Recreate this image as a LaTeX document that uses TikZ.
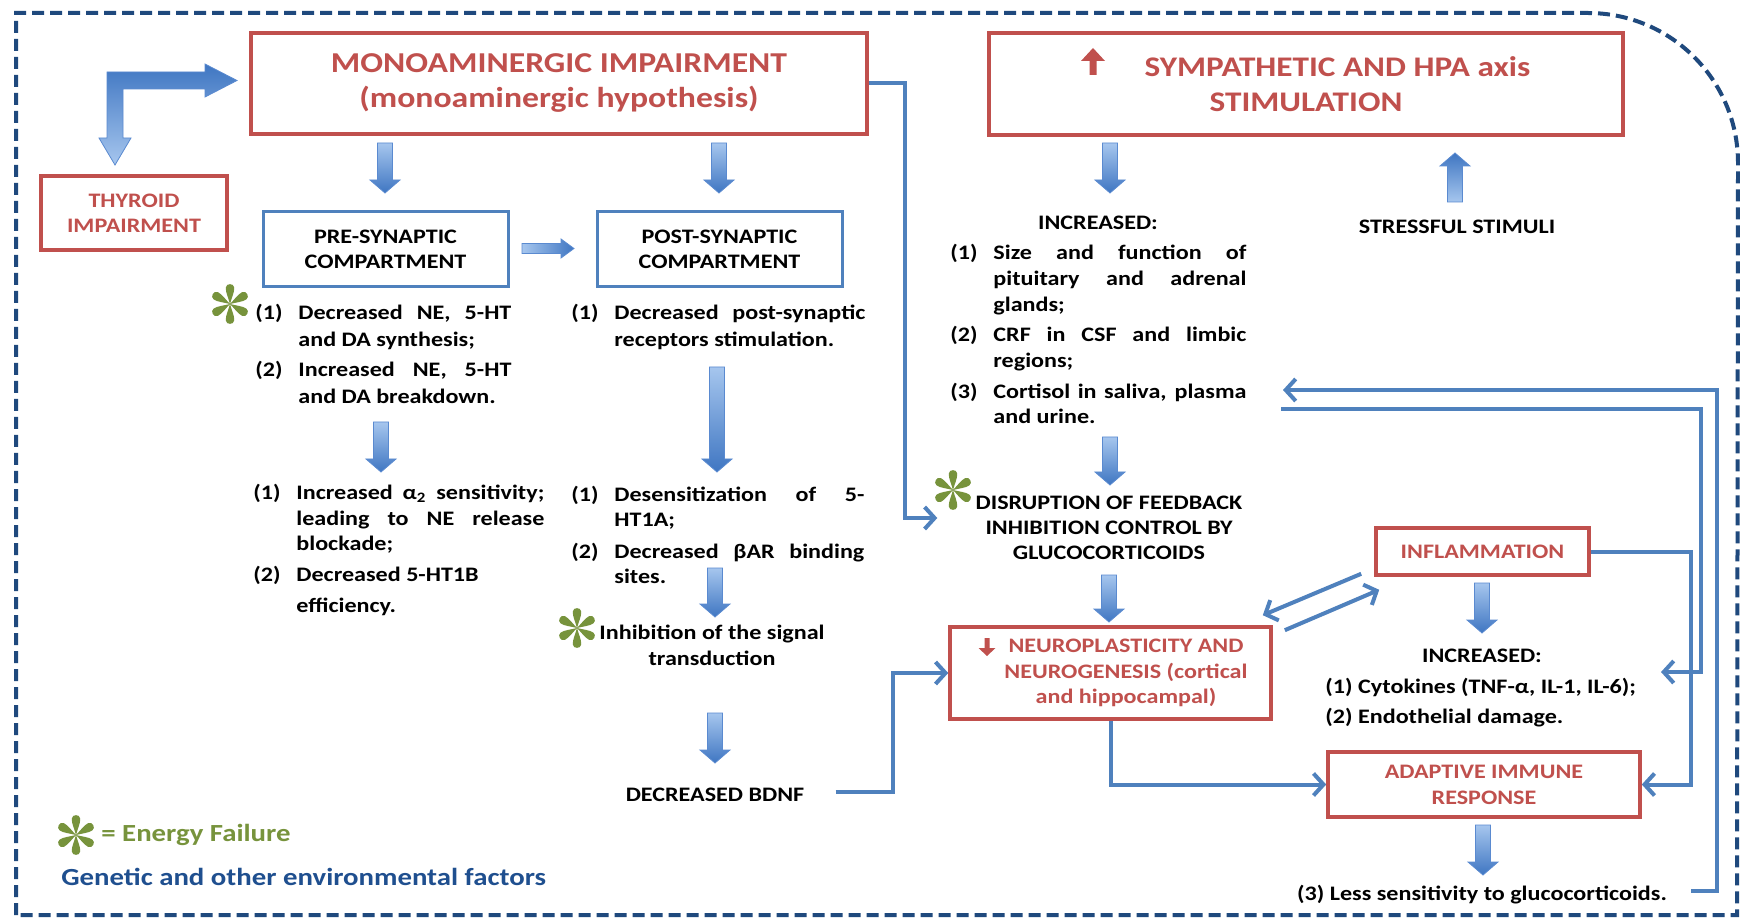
\documentclass[tikz,border=0pt]{standalone}
\usepackage{fontspec}
\setmainfont{Carlito}[FakeStretch=1.17]
\usetikzlibrary{arrows.meta,calc}
\definecolor{cred}{HTML}{C0504D}
\definecolor{cblue}{HTML}{4F81BD}
\definecolor{cnavy}{HTML}{1F497D}
\definecolor{cgreen}{HTML}{77933C}
\definecolor{cgen}{HTML}{1F4F8F}
\definecolor{alight}{HTML}{A6C6EE}
\definecolor{adark}{HTML}{3F76C2}
\definecolor{ablue}{HTML}{5A8AD0}
\newcommand{\fsz}[2]{\fontsize{#1}{#2}\selectfont\bfseries}
\newcommand{\itm}[3]{\makebox[21.5pt][l]{#1}\makebox[#2][s]{#3}}
\newcommand{\itl}[3]{\makebox[21.5pt][l]{#1}\makebox[#2][l]{#3}}
\newcommand{\cnj}[2]{\hspace*{21.5pt}\makebox[#1][s]{#2}}
\newcommand{\cnl}[2]{\hspace*{21.5pt}\makebox[#1][l]{#2}}
\newcommand{\vblock}[4][]{\shadedraw[blk,top color=alight,bottom color=adark,#1] ({#2-7.5},#3) -- ({#2+7.5},#3) -- ({#2+7.5},{#4-13*sign(#4-#3)}) -- ({#2+15},{#4-13*sign(#4-#3)}) -- (#2,#4) -- ({#2-15},{#4-13*sign(#4-#3)}) -- ({#2-7.5},{#4-13*sign(#4-#3)}) -- cycle;}
\newcommand{\hblock}[3]{\shadedraw[blk,left color=alight,right color=adark] (#2,{#1-5}) -- ({#3-13},{#1-5}) -- ({#3-13},{#1-9.5}) -- (#3,#1) -- ({#3-13},{#1+9.5}) -- ({#3-13},{#1+5}) -- (#2,{#1+5}) -- cycle;}
\newcommand{\redarr}[6]{\fill[cred] ({#1-#4},#2) -- ({#1+#4},#2) -- ({#1+#4},{#3-#6*sign(#3-#2)}) -- ({#1+#5},{#3-#6*sign(#3-#2)}) -- (#1,#3) -- ({#1-#5},{#3-#6*sign(#3-#2)}) -- ({#1-#4},{#3-#6*sign(#3-#2)}) -- cycle;}
\tikzset{ast/.pic={\foreach \a in {90,30,-30,-90,150,210}{\fill[cgreen,rotate=\a] (0,0) .. controls (6,-1.6) and (12,-4.6) .. (16.5,-4.2) .. controls (21,-3.8) and (21,3.8) .. (16.5,4.2) .. controls (12,4.6) and (6,1.6) .. (0,0);}}}
\begin{document}
\begin{tikzpicture}[x=0.5pt,y=-0.5pt,
  rbox/.style={draw=cred, line width=1.8pt, text=cred, align=center, inner sep=0pt},
  bbox/.style={draw=cblue, line width=1.5pt, text=black, align=center, inner sep=0pt},
  txt/.style={align=center, inner sep=0pt, text=black},
  lst/.style={inner sep=0pt, anchor=base west, text=black},
  conn/.style={draw=cblue, line width=2pt, -{Straight Barb[length=5pt,width=11pt]}},
  blk/.style={draw=ablue, line width=0.4pt},
  border/.style={draw=cnavy, line width=2pt, dash pattern=on 6pt off 3pt},
]
\useasboundingbox (0,0) rectangle (1740,919);
\fill[white] (0,0) rectangle (1740,919);
% border
\draw[border] (16,915) -- (16,13) -- (1588,13) arc[start angle=-90,end angle=0,radius=150] -- (1737,915) -- cycle;

% boxes
\node[rbox, minimum width=308pt, minimum height=50.5pt, font=\fsz{14.4}{17.5}] (mono) at (559,83.5) {MONOAMINERGIC IMPAIRMENT\\(monoaminergic hypothesis)};
\node[rbox, minimum width=93pt, minimum height=37pt, font=\fsz{10.3}{12.5}] (thy) at (134,213) {THYROID\\IMPAIRMENT};
\node[bbox, minimum width=122.5pt, minimum height=37.5pt, font=\fsz{10.3}{12.5}] (pre) at (385.5,249.5) {PRE-SYNAPTIC\\COMPARTMENT};
\node[bbox, minimum width=122.5pt, minimum height=37.5pt, font=\fsz{10.3}{12.5}] (post) at (719.5,249.5) {POST-SYNAPTIC\\COMPARTMENT};
\node[rbox, minimum width=317pt, minimum height=51pt, font=\fsz{14.2}{17.5}] (symp) at (1306,84) {\hspace*{31.5pt}SYMPATHETIC AND HPA axis\\STIMULATION};
\node[rbox, minimum width=106.5pt, minimum height=23.5pt, font=\fsz{10.3}{12.5}] (infl) at (1482.5,551.5) {INFLAMMATION};
\node[rbox, minimum width=160.5pt, minimum height=46pt, font=\fsz{10.3}{12.75}] (neuro) at (1110.5,673) {\hspace*{15.5pt}NEUROPLASTICITY AND\\\hspace*{15.5pt}NEUROGENESIS (cortical\\\hspace*{15.5pt}and hippocampal)};
\node[rbox, minimum width=156pt, minimum height=32.5pt, font=\fsz{10.3}{13}] (adapt) at (1484,784.5) {ADAPTIVE IMMUNE\\RESPONSE};

% plain texts
\node[txt, font=\fsz{10.3}{12.5}] (inc1) at (1098,223) {INCREASED:};
\node[txt, font=\fsz{10.3}{12.5}] (stress) at (1457,227) {STRESSFUL STIMULI};
\node[txt, font=\fsz{10.3}{12.5}] (disr) at (1109,528) {DISRUPTION OF FEEDBACK\\INHIBITION CONTROL BY\\GLUCOCORTICOIDS};
\node[txt, font=\fsz{10.3}{13}] (inh) at (712,645) {Inhibition of the signal\\transduction};
\node[txt, font=\fsz{10.3}{12.5}] (bdnf) at (715,795) {DECREASED BDNF};
\node[txt, font=\fsz{10.3}{12.5}] (inc2) at (1482,656) {INCREASED:};
\node[lst] (cyt) at (1325,693.5) {\parbox[t]{170pt}{\fsz{10.3}{13}(1) Cytokines (TNF-α, IL-1, IL-6);\\[2pt](2) Endothelial damage.}};
\node[txt, font=\fsz{10.3}{12.5}] (less) at (1482,895) {(3) Less sensitivity to glucocorticoids.};
\node[txt, anchor=west, text=cgreen, font=\fsz{12.3}{14}] (legend) at (101,835) {= Energy Failure};
\node[txt, anchor=west, text=cgen, font=\fsz{12.3}{14}] (genetic) at (61,877) {Genetic and other environmental factors};

% lists
\node[lst] (prel1) at (255,319.5) {\parbox[t]{128pt}{\fsz{10.3}{13.5}%
\itm{(1)}{106.5pt}{Decreased NE, 5-HT}\\
\cnl{106.5pt}{and DA synthesis;}\\[1.5pt]
\itm{(2)}{106.5pt}{Increased NE, 5-HT}\\
\cnl{106.5pt}{and DA breakdown.}}};
\node[lst] (postl1) at (571,319.5) {\parbox[t]{147pt}{\fsz{10.3}{13.5}%
\itm{(1)}{125.5pt}{Decreased post-synaptic}\\
\cnl{125.5pt}{receptors stimulation.}}};
\node[lst] (prel2) at (253,499.5) {\parbox[t]{145.5pt}{\fsz{10.3}{12.5}%
\itm{(1)}{124pt}{Increased α\textsubscript{2} sensitivity;}\\[0.5pt]
\cnj{124pt}{leading to NE release}\\
\cnl{124pt}{blockade;}\\[3pt]
\itl{(2)}{124pt}{Decreased 5-HT1B}\\[3pt]
\cnl{124pt}{efficiency.}}};
\node[lst] (postl2) at (571,501.5) {\parbox[t]{146.5pt}{\fsz{10.3}{12.5}%
\itm{(1)}{125pt}{Desensitization of 5-}\\
\cnl{125pt}{HT1A;}\\[3.5pt]
\itm{(2)}{125pt}{Decreased βAR binding}\\
\cnl{125pt}{sites.}}};
\node[lst] (sympl) at (950,259.5) {\parbox[t]{148pt}{\fsz{10.3}{13}%
\itm{(1)}{126.5pt}{Size and function of}\\
\cnj{126.5pt}{pituitary and adrenal}\\
\cnl{126.5pt}{glands;}\\[2pt]
\itm{(2)}{126.5pt}{CRF in CSF and limbic}\\
\cnl{126.5pt}{regions;}\\[2.5pt]
\itm{(3)}{126.5pt}{Cortisol in saliva, plasma}\\[-0.5pt]
\cnl{126.5pt}{and urine.}}};

% asterisks
\pic at (230,304) {ast};
\pic at (577,628) {ast};
\pic at (953,490) {ast};
\pic at (76,835) {ast};

% red title arrows
\redarr{1093}{75}{48}{3.5}{12}{13}
\redarr{987}{638}{656}{2.5}{8.5}{8}

% block arrows
\shadedraw[blk, top color=adark, bottom color=alight] (107,72) -- (205,72) -- (205,64) -- (237,80.5) -- (205,97) -- (205,89) -- (123,89) -- (123,138) -- (131,138) -- (115,165) -- (99,138) -- (107,138) -- cycle;
\vblock{385}{143}{193}
\vblock{719}{143}{193}
\hblock{248.5}{522}{574}
\vblock{381}{422}{472}
\vblock{717}{367}{472}
\vblock{715}{568}{617}
\vblock{715}{713}{763}
\vblock{1110}{143}{193}
\vblock[top color=adark,bottom color=alight]{1455}{202}{153}
\vblock{1110}{437}{485}
\vblock{1109}{575}{622}
\vblock{1482}{583}{633}
\vblock{1483}{825}{875}

% connectors
\coordinate (fbin) at (1283,390);
\coordinate (fbout) at (1281,409);
\coordinate (cytin) at (1661,672);
\draw[conn] (mono.east) -- ++(36,0) |- ($(disr.west)+(-38,-10)$);
\draw[conn] ($(bdnf.east)+(31,-3)$) -- ++(57,0) |- (neuro.west);
\draw[conn] (neuro.south) |- (adapt.west);
\draw[conn] (infl.east) -- ++(100,0) |- (adapt.east);
\draw[conn] (fbout) -- ++(420,0) |- (cytin);
\draw[conn] ($(less.east)+(24,-4)$) -- ++(26,0) |- (fbin);
\draw[conn] ($(infl.south west)+(-13,-3)$) -- ($(neuro.north east)+(-10,-10)$);
\draw[conn] ($(neuro.north east)+(12,5)$) -- ($(infl.south west)+(5,13)$);
\end{tikzpicture}
\end{document}
